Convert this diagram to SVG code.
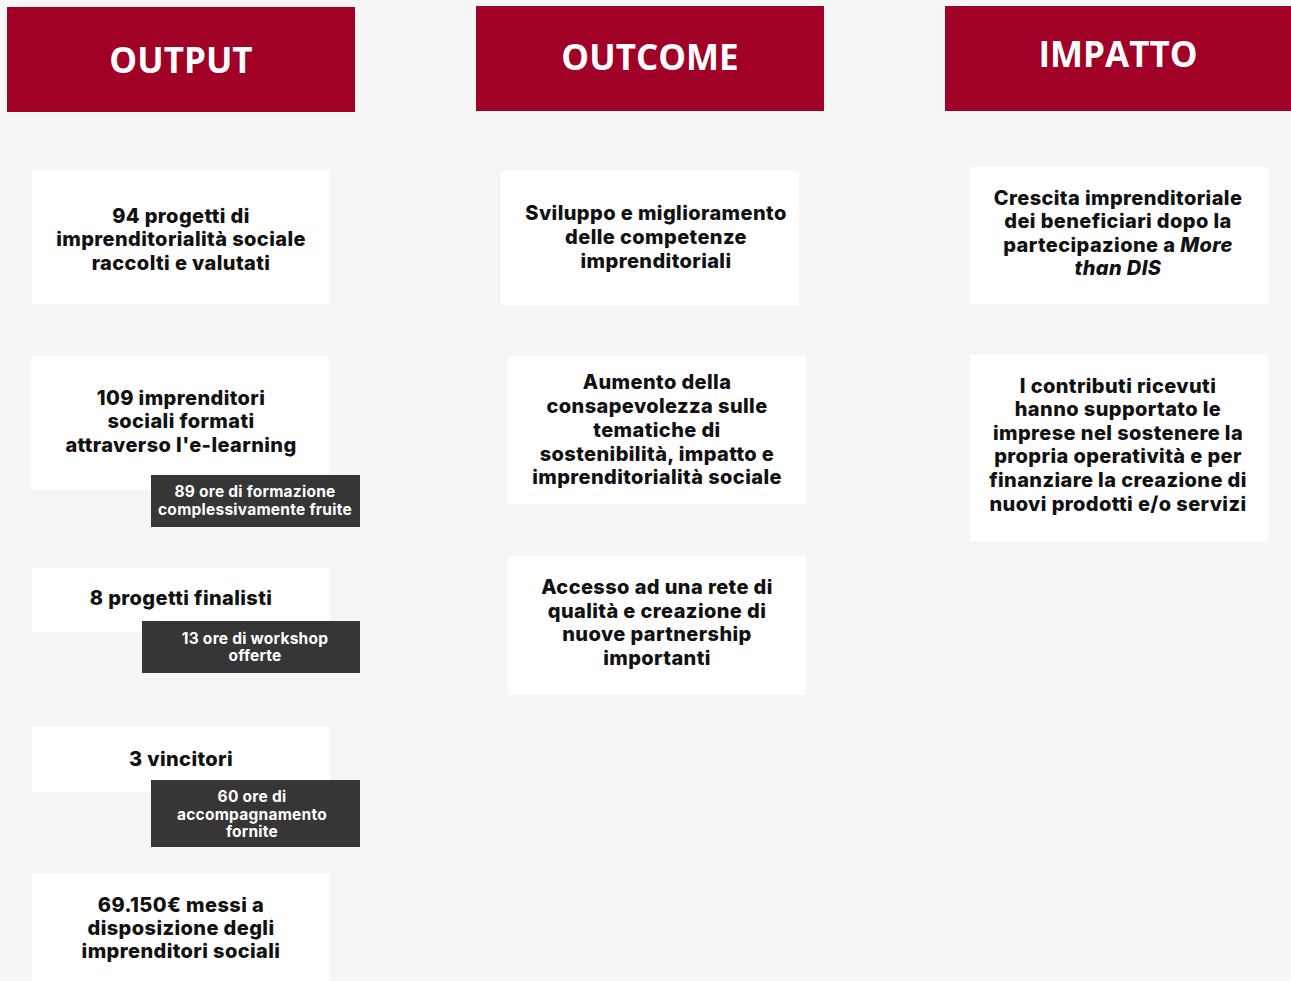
<svg xmlns="http://www.w3.org/2000/svg" width="1291" height="981" viewBox="0 0 1291 981">
<style>
.hdr{fill:#a10027}
.hdrt{font-family:"Open Sans","DejaVu Sans",sans-serif;font-weight:700;font-size:35px;fill:#fff;text-anchor:middle}
.box{fill:#fff}
.t{font-family:Inter,"Noto Sans",sans-serif;font-weight:800;font-size:20px;letter-spacing:0.4px;fill:#111;text-anchor:middle}
.dk{fill:#363636}
.dt{font-family:Inter,"Noto Sans",sans-serif;font-weight:700;font-size:15.5px;letter-spacing:0.25px;fill:#fff;text-anchor:middle}
.i{font-style:italic}
</style>
<rect width="1291" height="981" fill="#f6f6f6"/>
<g id="hdr-output"><rect class="hdr" x="7" y="7" width="348" height="105"/><text class="hdrt" x="181" y="73">OUTPUT</text></g>
<g id="hdr-outcome"><rect class="hdr" x="476" y="6" width="348" height="105"/><text class="hdrt" x="650" y="70">OUTCOME</text></g>
<g id="hdr-impatto"><rect class="hdr" x="945" y="6" width="346" height="105"/><text class="hdrt" x="1118" y="67">IMPATTO</text></g>

<g id="out1"><rect class="box" x="32" y="170" width="298" height="134"/>
<text class="t"><tspan x="181" y="223">94 progetti di</tspan><tspan x="181" y="246">imprenditorialità sociale</tspan><tspan x="181" y="270">raccolti e valutati</tspan></text></g>
<g id="out2"><rect class="box" x="31" y="356" width="298" height="134"/>
<text class="t"><tspan x="181" y="405">109 imprenditori</tspan><tspan x="181" y="428">sociali formati</tspan><tspan x="181" y="452">attraverso l'e-learning</tspan></text></g>
<g id="out2-note"><rect class="dk" x="151" y="475" width="209" height="52"/>
<text class="dt"><tspan x="255" y="497">89 ore di formazione</tspan><tspan x="255" y="515">complessivamente fruite</tspan></text></g>
<g id="out3"><rect class="box" x="32" y="568" width="298" height="64"/>
<text class="t"><tspan x="181" y="605">8 progetti finalisti</tspan></text></g>
<g id="out3-note"><rect class="dk" x="142" y="621" width="218" height="52"/>
<text class="dt"><tspan x="255" y="644">13 ore di workshop</tspan><tspan x="255" y="661">offerte</tspan></text></g>
<g id="out4"><rect class="box" x="32" y="727" width="298" height="65"/>
<text class="t"><tspan x="181" y="766">3 vincitori</tspan></text></g>
<g id="out4-note"><rect class="dk" x="151" y="780" width="209" height="67"/>
<text class="dt"><tspan x="252" y="802">60 ore di</tspan><tspan x="252" y="820">accompagnamento</tspan><tspan x="252" y="837">fornite</tspan></text></g>
<g id="out5"><rect class="box" x="32" y="873" width="298" height="120"/>
<text class="t"><tspan x="181" y="912">69.150€ messi a</tspan><tspan x="181" y="935">disposizione degli</tspan><tspan x="181" y="958">imprenditori sociali</tspan></text></g>

<g id="oc1"><rect class="box" x="501" y="171" width="298" height="134"/>
<text class="t"><tspan x="656" y="220">Sviluppo e miglioramento</tspan><tspan x="656" y="244">delle competenze</tspan><tspan x="656" y="268">imprenditoriali</tspan></text></g>
<g id="oc2"><rect class="box" x="508" y="356" width="298" height="148"/>
<text class="t"><tspan x="657" y="389">Aumento della</tspan><tspan x="657" y="413">consapevolezza sulle</tspan><tspan x="657" y="437">tematiche di</tspan><tspan x="657" y="461">sostenibilità, impatto e</tspan><tspan x="657" y="484">imprenditorialità sociale</tspan></text></g>
<g id="oc3"><rect class="box" x="508" y="556" width="298" height="139"/>
<text class="t"><tspan x="657" y="594">Accesso ad una rete di</tspan><tspan x="657" y="618">qualità e creazione di</tspan><tspan x="657" y="641">nuove partnership</tspan><tspan x="657" y="665">importanti</tspan></text></g>

<g id="im1"><rect class="box" x="970" y="167" width="298" height="137"/>
<text class="t"><tspan x="1118" y="205">Crescita imprenditoriale</tspan><tspan x="1118" y="228">dei beneficiari dopo la</tspan><tspan x="1118" y="252">partecipazione a <tspan class="i">More</tspan></tspan><tspan x="1118" y="275" class="i">than DIS</tspan></text></g>
<g id="im2"><rect class="box" x="970" y="355" width="298" height="186"/>
<text class="t"><tspan x="1118" y="393">I contributi ricevuti</tspan><tspan x="1118" y="416">hanno supportato le</tspan><tspan x="1118" y="440">imprese nel sostenere la</tspan><tspan x="1118" y="463">propria operatività e per</tspan><tspan x="1118" y="487">finanziare la creazione di</tspan><tspan x="1118" y="511">nuovi prodotti e/o servizi</tspan></text></g>
<g id="connectors"></g>
</svg>
